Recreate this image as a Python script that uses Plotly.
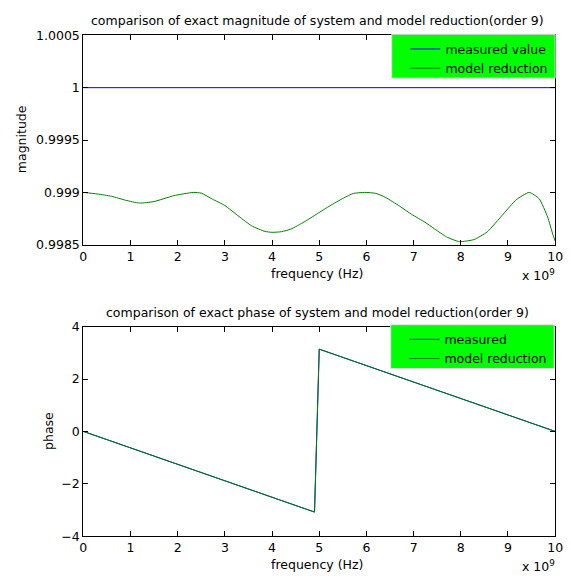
import plotly.graph_objects as go

# ---- data (frequency in units of 1e9 Hz) ----
freq_measured_mag = [0, 10]
mag_measured = [1.0, 1.0]

freq_model_mag = [0, 0.3, 0.6, 0.9, 1.19, 1.5, 1.92, 2.33, 2.5, 2.74, 3.0, 3.3, 3.57, 3.85, 4.0,
                  4.2, 4.4, 4.68, 4.96, 5.23, 5.51, 5.72, 5.96, 6.2, 6.41, 6.7, 6.96, 7.24,
                  7.45, 7.7, 7.97, 8.28, 8.56, 8.9, 9.18, 9.45, 9.66, 9.84, 9.95, 10.0]
mag_model = [0.999000, 0.998985, 0.998963, 0.998925, 0.998898, 0.998913, 0.998969, 0.999000,
             0.998993, 0.998935, 0.998875, 0.998770, 0.998680, 0.998628, 0.998619, 0.998625,
             0.998650, 0.998718, 0.998797, 0.998873, 0.998945, 0.998990, 0.999000, 0.998991,
             0.998951, 0.998870, 0.998790, 0.998716, 0.998650, 0.998575, 0.998530, 0.998550,
             0.998623, 0.998793, 0.998932, 0.999000, 0.998940, 0.998765, 0.998600, 0.998535]

freq_phase = [0, 4.9, 5.0, 10]
phase_measured = [0.0, -3.08, 3.14, 0.0]
phase_model = [0.0, -3.08, 3.14, 0.0]

x_ticks = [0, 1, 2, 3, 4, 5, 6, 7, 8, 9, 10]
mag_ticks = [0.9985, 0.999, 0.9995, 1.0, 1.0005]
mag_tick_labels = ["0.9985", "0.999", "0.9995", "1", "1.0005"]
phase_ticks = [-4, -2, 0, 2, 4]

title_top = "comparison of exact magnitude of system and model reduction(order 9)"
title_bottom = "comparison of exact phase of system and model reduction(order 9)"

W, H = 571, 587
FONT = "DejaVu Sans"
FS = 12.5
BLUE = "#0000ff"
GREEN = "#008000"
LIME = "#00ff00"


def px_x(p):
    return p / W


def px_y(p):
    return 1 - p / H


fig = go.Figure()

fig.add_trace(go.Scatter(x=freq_measured_mag, y=mag_measured, mode="lines",
                         line=dict(color=BLUE, width=1), name="measured value",
                         xaxis="x", yaxis="y", legend="legend"))
fig.add_trace(go.Scatter(x=freq_model_mag, y=mag_model, mode="lines",
                         line=dict(color=GREEN, width=1, shape="spline", smoothing=0.5),
                         name="model reduction",
                         xaxis="x", yaxis="y", legend="legend"))
fig.add_trace(go.Scatter(x=freq_phase, y=phase_measured, mode="lines",
                         line=dict(color=BLUE, width=1), name="measured",
                         xaxis="x2", yaxis="y2", legend="legend2"))
fig.add_trace(go.Scatter(x=freq_phase, y=phase_model, mode="lines",
                         line=dict(color=GREEN, width=1), name="model reduction",
                         xaxis="x2", yaxis="y2", legend="legend2"))

axis_common = dict(showline=True, linecolor="black", linewidth=1, mirror="ticks",
                   ticks="inside", ticklen=5, tickcolor="black", showgrid=False,
                   zeroline=False, tickfont=dict(family=FONT, size=FS, color="black"))

fig.update_layout(
    width=W, height=H, autosize=False,
    margin=dict(l=0, r=0, t=0, b=0),
    paper_bgcolor="white", plot_bgcolor="white",
    font=dict(family=FONT, size=FS, color="black"),
    xaxis=dict(domain=[px_x(81), px_x(563)], range=[0, 10], tickvals=x_ticks,
               anchor="y", **axis_common),
    yaxis=dict(domain=[px_y(243), px_y(28)], range=[0.9985, 1.0005], tickvals=mag_ticks,
               ticktext=mag_tick_labels, anchor="x", **axis_common),
    xaxis2=dict(domain=[px_x(81), px_x(563)], range=[0, 10], tickvals=x_ticks,
                anchor="y2", **axis_common),
    yaxis2=dict(domain=[px_y(542), px_y(327)], range=[-4, 4], tickvals=phase_ticks,
                anchor="x2", **axis_common),
    legend=dict(x=px_x(410), y=px_y(27), xanchor="left", yanchor="top",
                bgcolor="rgba(0,0,0,0)", borderwidth=0,
                font=dict(family=FONT, size=FS, color="black")),
    legend2=dict(x=px_x(409), y=px_y(325), xanchor="left", yanchor="top",
                 bgcolor="rgba(0,0,0,0)", borderwidth=0,
                 font=dict(family=FONT, size=FS, color="black")),
    showlegend=True,
)

# legend boxes
for (x0, y0, x1, y1) in [(396, 27, 563, 72), (395, 325, 562, 370)]:
    fig.add_shape(type="rect", xref="paper", yref="paper",
                  x0=px_x(x0), x1=px_x(x1), y0=px_y(y1), y1=px_y(y0),
                  fillcolor=LIME, line=dict(color="#e0e0e0", width=1), layer="above")

ann = [
    dict(text=title_top, x=px_x(320), y=px_y(13)),
    dict(text=title_bottom, x=px_x(320), y=px_y(312)),
    dict(text="frequency (Hz)", x=px_x(320), y=px_y(272)),
    dict(text="frequency (Hz)", x=px_x(320), y=px_y(571)),
    dict(text="magnitude", x=px_x(18), y=px_y(135), textangle=-90),
    dict(text="phase", x=px_x(46), y=px_y(434), textangle=-90),
]
for a in ann:
    fig.add_annotation(xref="paper", yref="paper", showarrow=False,
                       xanchor="center", yanchor="middle",
                       font=dict(family=FONT, size=FS, color="black"), **a)

for ybot in (284, 583):
    fig.add_annotation(xref="paper", yref="paper", showarrow=False,
                       text="x 10<sup>9</sup>", x=px_x(565), y=px_y(ybot),
                       xanchor="right", yanchor="bottom",
                       font=dict(family=FONT, size=FS, color="black"))

fig.write_html("out.html",
               config={"displayModeBar": False},
               post_script="document.body.style.margin='0px';"
                           "document.body.style.overflow='hidden';")
